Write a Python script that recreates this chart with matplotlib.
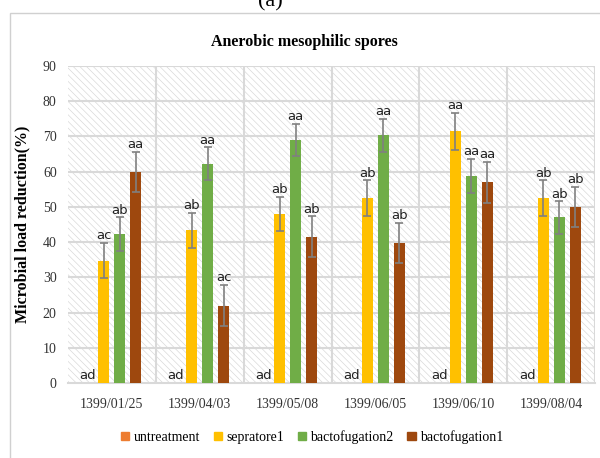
import numpy as np
import matplotlib.pyplot as plt
from matplotlib.patches import Rectangle, Patch

dates = ['1399/01/25', '1399/04/03', '1399/05/08', '1399/06/05', '1399/06/10', '1399/08/04']
series = ['untreatment', 'sepratore1', 'bactofugation2', 'bactofugation1']

untreatment = [0, 0, 0, 0, 0, 0]
sepratore1 = [34.7, 43.3, 48.0, 52.5, 71.5, 52.5]
bactofugation2 = [42.3, 62.3, 69.0, 70.3, 58.8, 47.0]
bactofugation1 = [60.0, 22.0, 41.5, 39.8, 57.0, 50.0]

err_untreatment = [0, 0, 0, 0, 0, 0]
err_sepratore1 = [5.0, 5.0, 4.8, 5.0, 5.2, 5.0]
err_bactofugation2 = [4.7, 4.6, 4.6, 4.7, 4.8, 4.6]
err_bactofugation1 = [5.7, 5.8, 5.8, 5.7, 5.8, 5.7]

lab_untreatment = ['ad', 'ad', 'ad', 'ad', 'ad', 'ad']
lab_sepratore1 = ['ac', 'ab', 'ab', 'ab', 'aa', 'ab']
lab_bactofugation2 = ['ab', 'aa', 'aa', 'aa', 'aa', 'ab']
lab_bactofugation1 = ['aa', 'ac', 'ab', 'ab', 'aa', 'ab']

colors = ['#ED7D31', '#FFC000', '#70AD47', '#9E480E']

values = [untreatment, sepratore1, bactofugation2, bactofugation1]
errors = [err_untreatment, err_sepratore1, err_bactofugation2, err_bactofugation1]
labels = [lab_untreatment, lab_sepratore1, lab_bactofugation2, lab_bactofugation1]

serif = 'Liberation Serif'

fig = plt.figure(figsize=(6, 4.58), dpi=100)
ax = fig.add_axes([0.113, 0.1638, 0.879, 0.692])

# hatched background
plt.rcParams['hatch.linewidth'] = 0.5
bg = Rectangle((0, 0), 1, 1, transform=ax.transAxes, facecolor='white',
               edgecolor='#d9d9d9', hatch='\\\\\\\\\\', linewidth=0, zorder=0)
ax.add_patch(bg)

x = np.arange(len(dates))
step = 0.182
width = 0.125
for i, (vals, errs, labs, c) in enumerate(zip(values, errors, labels, colors)):
    pos = x + (i - 1.5) * step
    ax.bar(pos, vals, width, color=c, zorder=3, label=series[i])
    if i > 0:
        ax.errorbar(pos, vals, yerr=errs, fmt='none', ecolor='#808080',
                    elinewidth=1.2, capsize=3, capthick=1.2, zorder=4)
    for p, v, e, t in zip(pos, vals, errs, labs):
        ax.annotate(t, (p, v + e), xytext=(0, 0.5), textcoords='offset points',
                    ha='center', va='bottom', fontsize=9.5, color='#222222',
                    family='DejaVu Sans', zorder=5)

ax.set_xlim(-0.5, len(dates) - 0.5)
ax.set_ylim(0, 90)
ax.set_yticks(range(0, 91, 10))
for y in range(10, 91, 10):
    ax.axhline(y, color='#d9d9d9', lw=1.5, zorder=1)
for b in np.arange(0.5, len(dates), 1):
    ax.axvline(b, color='#d9d9d9', lw=1.5, zorder=1)
ax.set_xticks(x)
ax.set_xticklabels(dates)
for s in ['top', 'right', 'left']:
    ax.spines[s].set_visible(False)
ax.spines['bottom'].set_color('#d9d9d9')
ax.spines['bottom'].set_linewidth(1.5)
ax.tick_params(length=0, labelsize=10, colors='#333333', pad=8)
ax.tick_params(axis='x', pad=11)
for t in ax.get_xticklabels() + ax.get_yticklabels():
    t.set_family(serif)

ax.set_ylabel('Microbial load reduction(%)', family=serif, fontweight='bold',
              fontsize=11.5, labelpad=9)
fig.text(0.508, 0.908, 'Anerobic mesophilic spores', family=serif,
         fontweight='bold', fontsize=11.5, ha='center', va='center')
fig.text(0.45, 0.995, '(a)', family=serif, fontsize=16, ha='center', va='center')

# outer frame
fig.patches.append(Rectangle((0.017, -0.1), 1.1, 1.072, transform=fig.transFigure,
                             fill=False, edgecolor='#d0d0d0', lw=1))

handles = [Patch(color=c) for c in colors]
fig.legend(handles, series, loc='center', bbox_to_anchor=(0.52, 0.046),
           ncol=4, frameon=False, handlelength=0.6, handleheight=0.6,
           handletextpad=0.3, columnspacing=1.0,
           prop={'family': serif, 'size': 10})

fig.savefig('out.png', dpi=100)
